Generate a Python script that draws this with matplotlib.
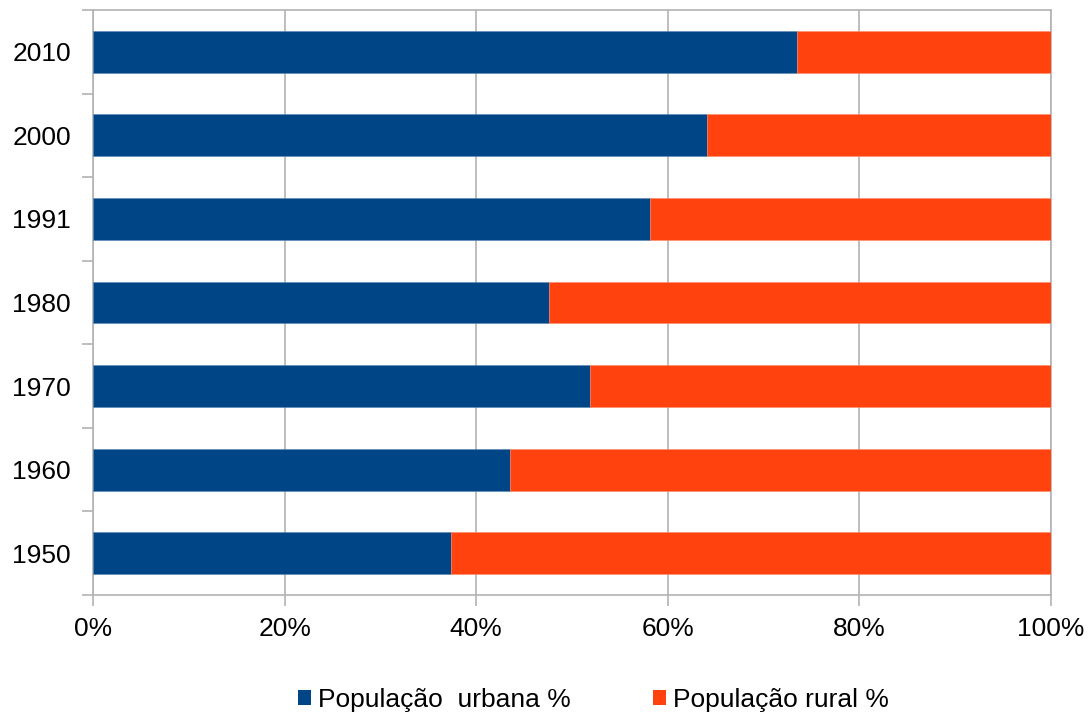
import matplotlib
matplotlib.use("Agg")
import matplotlib.pyplot as plt
from matplotlib.ticker import FuncFormatter, FixedLocator
from matplotlib.patches import Patch

plt.rcParams['font.family'] = ['Liberation Sans', 'DejaVu Sans']

years = ["1950", "1960", "1970", "1980", "1991", "2000", "2010"]
urbana = [37.4, 43.5, 51.9, 47.6, 58.1, 64.1, 73.5]
rural = [100 - u for u in urbana]

blue = "#004586"
orange = "#ff420e"
grey = "#b3b3b3"

fig = plt.figure(figsize=(10.92, 7.18), dpi=100)
ax = fig.add_axes([93 / 1092, 1 - 595 / 718, (1051 - 93) / 1092, (595 - 10) / 718])

pos = list(range(len(years)))
ax.barh(pos, urbana, height=0.5, color=blue, edgecolor="#5a86b3", linewidth=0.4,
        label="População  urbana %", zorder=3)
ax.barh(pos, rural, left=urbana, height=0.5, color=orange, edgecolor="#ff8a6a",
        linewidth=0.4, label="População rural %", zorder=3)

ax.set_xlim(0, 100)
ax.set_ylim(-0.5, len(years) - 0.5)
ax.set_xticks([0, 20, 40, 60, 80, 100])
ax.xaxis.set_major_formatter(FuncFormatter(lambda v, p: f"{int(v)}%"))
ax.set_yticks(pos)
ax.set_yticklabels(years)
ax.yaxis.set_minor_locator(FixedLocator([i - 0.5 for i in range(len(years) + 1)]))

ax.grid(axis="x", color=grey, linewidth=1.2, zorder=0)
for s in ax.spines.values():
    s.set_color(grey)
    s.set_linewidth(1.2)

ax.tick_params(axis="x", length=8, width=1.2, color=grey, labelsize=19, pad=8,
               labelcolor="#000000")
ax.tick_params(axis="y", which="major", length=0, labelsize=19, pad=16,
               labelcolor="#000000")
ax.tick_params(axis="y", which="minor", length=8, width=1.2, color=grey)

handles = [Patch(facecolor=blue, label="População  urbana %"),
           Patch(facecolor=orange, label="População rural %")]
fig.legend(handles=handles, loc="center", bbox_to_anchor=(0.5435, 1 - 700 / 718),
           ncol=2, frameon=False, fontsize=19, handlelength=0.5, handleheight=0.5,
           handletextpad=0.27, columnspacing=3.1, borderpad=0, borderaxespad=0)

fig.savefig("out.png", dpi=100)
